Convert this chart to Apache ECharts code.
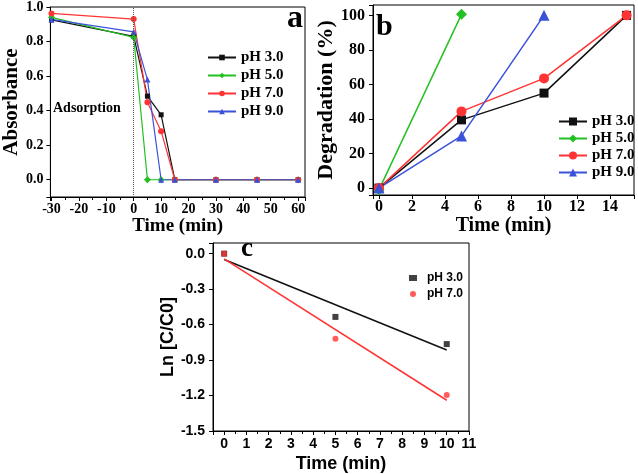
<!DOCTYPE html>
<html><head><meta charset="utf-8">
<script src="https://cdn.jsdelivr.net/npm/echarts@6/dist/echarts.min.js"></script>
<style>html,body{margin:0;padding:0;background:#fff}#c{width:638px;height:474px}</style>
</head><body><div id="c"></div>
<script>
// Panel a: absorbance vs time
const timeA = [-30, 0, 5, 10, 15, 30, 45, 60];
const absPH3 = [0.925, 0.83, 0.484, 0.376, 0, 0, 0, 0];
const absPH5 = [0.94, 0.824, 0, 0, 0, 0, 0, 0];
const absPH7 = [0.963, 0.93, 0.449, 0.281, 0, 0, 0, 0];
const absPH9 = [0.928, 0.856, 0.58, 0, 0, 0, 0, 0];
// Panel b: degradation vs time
const timeB = [0, 5, 10, 15];
const degPH3 = [0, 39.5, 55, 100];
const timeB5 = [0, 5];
const degPH5 = [-1, 100.6];
const degPH7 = [0, 44.4, 63.5, 100];
const timeB9 = [0, 5, 10];
const degPH9 = [0, 30.2, 100];
// Panel c: ln(C/C0) vs time
const timeC = [0, 5, 10];
const lnPH3 = [0, -0.535, -0.765];
const lnPH7 = [0, -0.72, -1.195];
const fitX = [0, 10];
const fitPH3 = [-0.05, -0.815];
const fitPH7 = [-0.045, -1.24];
const legendNames = ['pH 3.0', 'pH 5.0', 'pH 7.0', 'pH 9.0'];

const pairs = (xs, ys) => xs.map((x, i) => [x, ys[i]]);
const SERIF = '"Liberation Serif","Times New Roman",serif';
const SANS = '"Liberation Sans",Arial,sans-serif';
const cBlack = '#111', cGreen = '#22c022', cRed = '#ff3333', cBlue = '#3a52d8';

function fmtStep(step, dec) {
  return function (v) {
    const r = Math.round(v / step);
    if (Math.abs(v - r * step) > 1e-6) return '';
    return (r * step).toFixed(dec);
  };
}

const axisCommon = (font, size) => ({
  axisLine: { show: true, onZero: false, lineStyle: { color: '#000', width: 1 } },
  axisTick: { show: true, inside: false, length: 4, lineStyle: { color: '#000' } },
  splitLine: { show: false },
  axisLabel: { color: '#000', fontFamily: font, fontWeight: 'bold', fontSize: size },
  nameLocation: 'middle',
  nameTextStyle: { color: '#000', fontFamily: font, fontWeight: 'bold' }
});

function lineSeries(name, xi, yi, xs, ys, color, symbol, size, width) {
  return {
    type: 'line', name: name, xAxisIndex: xi, yAxisIndex: yi,
    data: pairs(xs, ys), symbol: symbol, symbolSize: size,
    lineStyle: { color: color, width: width }, itemStyle: { color: color },
    animation: false
  };
}

const option = {
  animation: false,
  grid: [
    { left: 46, top: 7, width: 259, height: 190, show: true, borderColor: '#000', borderWidth: 1 },
    { left: 373, top: 5, width: 261, height: 190, show: true, borderColor: '#000', borderWidth: 1 },
    { left: 213, top: 243, width: 256, height: 189, show: true, borderColor: '#000', borderWidth: 1 }
  ],
  xAxis: [
    Object.assign(axisCommon(SERIF, 14), {
      type: 'value', gridIndex: 0, min: -30.4, max: 62.5, splitNumber: 9,
      name: 'Time (min)', nameGap: 20,
      nameTextStyle: { color: '#000', fontFamily: SERIF, fontWeight: 'bold', fontSize: 19 },
      minorTick: { show: true, splitNumber: 2, length: 3, lineStyle: { color: '#000' } },
      axisLabel: { color: '#000', fontFamily: SERIF, fontWeight: 'bold', fontSize: 14, margin: 5, formatter: fmtStep(10, 0) }
    }),
    Object.assign(axisCommon(SERIF, 16), {
      type: 'value', gridIndex: 1, min: -0.36, max: 15.45, splitNumber: 8,
      name: 'Time (min)', nameGap: 21,
      nameTextStyle: { color: '#000', fontFamily: SERIF, fontWeight: 'bold', fontSize: 20 },
      axisLabel: { color: '#000', fontFamily: SERIF, fontWeight: 'bold', fontSize: 16, margin: 4, formatter: fmtStep(2, 0) }
    }),
    Object.assign(axisCommon(SANS, 14), {
      type: 'value', gridIndex: 2, min: -0.5, max: 11, splitNumber: 11,
      name: 'Time (min)', nameGap: 24,
      nameTextStyle: { color: '#000', fontFamily: SANS, fontWeight: 'bold', fontSize: 18 },
      minorTick: { show: true, splitNumber: 2, length: 3, lineStyle: { color: '#000' } },
      axisLabel: { color: '#000', fontFamily: SANS, fontWeight: 'bold', fontSize: 14, margin: 6, formatter: fmtStep(1, 0) }
    })
  ],
  yAxis: [
    Object.assign(axisCommon(SERIF, 14), {
      type: 'value', gridIndex: 0, min: -0.1, max: 1.0, splitNumber: 5,
      name: 'Absorbance', nameGap: 24,
      nameTextStyle: { color: '#000', fontFamily: SERIF, fontWeight: 'bold', fontSize: 21 },
      axisLabel: { color: '#000', fontFamily: SERIF, fontWeight: 'bold', fontSize: 14, margin: 7, formatter: fmtStep(0.2, 1) }
    }),
    Object.assign(axisCommon(SERIF, 16), {
      type: 'value', gridIndex: 1, min: -4, max: 106, splitNumber: 5,
      name: 'Degradation (%)', nameGap: 32,
      nameTextStyle: { color: '#000', fontFamily: SERIF, fontWeight: 'bold', fontSize: 22 },
      axisLabel: { color: '#000', fontFamily: SERIF, fontWeight: 'bold', fontSize: 16, margin: 8, formatter: fmtStep(20, 0) }
    }),
    Object.assign(axisCommon(SANS, 14), {
      type: 'value', gridIndex: 2, min: -1.5, max: 0.09, splitNumber: 5,
      name: 'Ln [C/C0]', nameGap: 35,
      nameTextStyle: { color: '#000', fontFamily: SANS, fontWeight: 'bold', fontSize: 18 },
      axisLabel: { color: '#000', fontFamily: SANS, fontWeight: 'bold', fontSize: 14, margin: 8, formatter: fmtStep(0.3, 1) }
    })
  ],
  legend: [
    { orient: 'vertical', left: 202, top: 45, itemWidth: 28, itemHeight: 7, itemGap: 3,
      data: legendNames.map(n => 'a|' + n), formatter: n => n.split('|')[1],
      textStyle: { color: '#000', fontFamily: SERIF, fontWeight: 'bold', fontSize: 15 }, selectedMode: false },
    { orient: 'vertical', left: 553, top: 109, itemWidth: 28, itemHeight: 10, itemGap: 2,
      data: legendNames.map(n => 'b|' + n), formatter: n => n.split('|')[1],
      textStyle: { color: '#000', fontFamily: SERIF, fontWeight: 'bold', fontSize: 15 }, selectedMode: false },
    { orient: 'vertical', left: 404, top: 267, itemWidth: 8, itemHeight: 6, itemGap: 4,
      data: ['c|pH 3.0', 'c|pH 7.0'], formatter: n => n.split('|')[1],
      textStyle: { color: '#000', fontFamily: SANS, fontWeight: 'bold', fontSize: 12, padding: [0, 0, 0, 5] }, selectedMode: false }
  ],
  series: [
    Object.assign(lineSeries('a|pH 3.0', 0, 0, timeA, absPH3, cBlack, 'rect', 5, 1.2), {
      markLine: { silent: true, symbol: 'none', label: { show: false },
        lineStyle: { color: '#555', type: 'dotted', width: 1 }, data: [{ xAxis: 0 }] }
    }),
    lineSeries('a|pH 5.0', 0, 0, timeA, absPH5, cGreen, 'diamond', 7, 1.2),
    lineSeries('a|pH 7.0', 0, 0, timeA, absPH7, cRed, 'circle', 6, 1.2),
    lineSeries('a|pH 9.0', 0, 0, timeA, absPH9, cBlue, 'triangle', 6, 1.2),
    lineSeries('b|pH 3.0', 1, 1, timeB, degPH3, cBlack, 'rect', 9, 1.5),
    lineSeries('b|pH 5.0', 1, 1, timeB5, degPH5, cGreen, 'diamond', 11, 1.5),
    lineSeries('b|pH 7.0', 1, 1, timeB, degPH7, cRed, 'circle', 10, 1.5),
    lineSeries('b|pH 9.0', 1, 1, timeB9, degPH9, cBlue, 'triangle', 11, 1.5),
    { type: 'line', name: 'fit3', xAxisIndex: 2, yAxisIndex: 2, data: pairs(fitX, fitPH3),
      symbol: 'none', lineStyle: { color: cBlack, width: 1.5 } },
    { type: 'line', name: 'fit7', xAxisIndex: 2, yAxisIndex: 2, data: pairs(fitX, fitPH7),
      symbol: 'none', lineStyle: { color: cRed, width: 1.5 } },
    { type: 'scatter', name: 'c|pH 3.0', xAxisIndex: 2, yAxisIndex: 2, data: pairs(timeC, lnPH3),
      symbol: 'rect', symbolSize: 6, itemStyle: { color: cBlack } },
    { type: 'scatter', name: 'c|pH 7.0', xAxisIndex: 2, yAxisIndex: 2, data: pairs(timeC, lnPH7),
      symbol: 'circle', symbolSize: 6, itemStyle: { color: cRed } }
  ],
  graphic: [
    { type: 'text', left: 53, top: 101, style: { text: 'Adsorption', fill: '#000', font: 'bold 14px ' + SERIF } },
    { type: 'text', left: 287, top: 3, style: { text: 'a', fill: '#000', font: 'bold 32px ' + SERIF } },
    { type: 'text', left: 376, top: 12, style: { text: 'b', fill: '#000', font: 'bold 30px ' + SERIF } },
    { type: 'text', left: 241, top: 236, style: { text: 'c', fill: '#000', font: 'bold 27px ' + SERIF } }
  ]
};

const chart = echarts.init(document.getElementById('c'), null, { renderer: 'canvas' });
chart.setOption(option);
</script>
</body></html>
